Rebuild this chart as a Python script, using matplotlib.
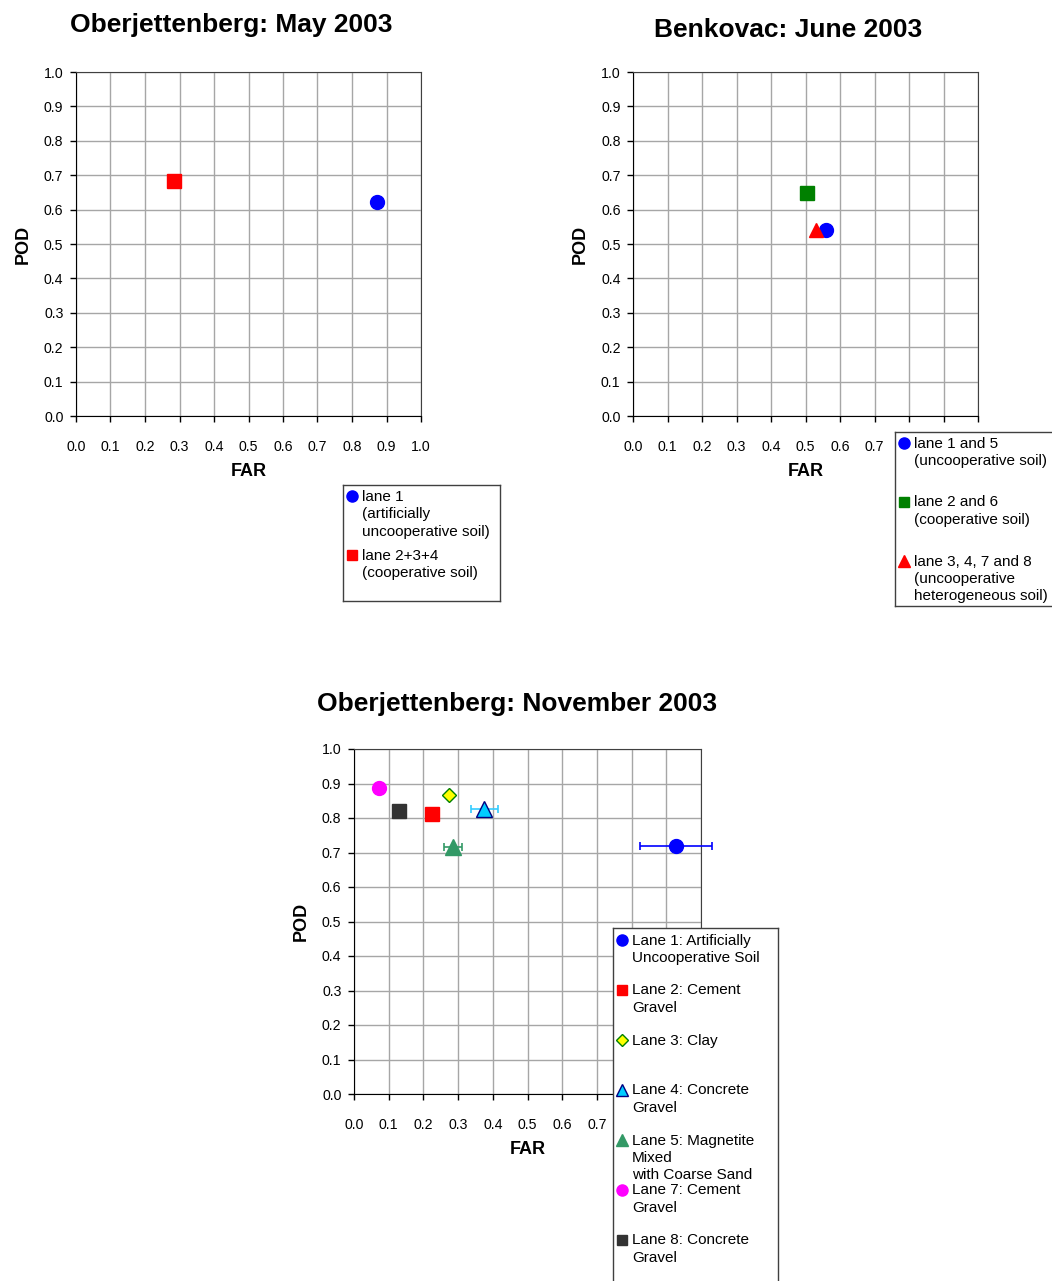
import matplotlib.pyplot as plt

plt.rcParams['font.family'] = ['Liberation Sans', 'DejaVu Sans']

W, H = 1052, 1281

# ---------------------------------------------------------------------------
# data
# ---------------------------------------------------------------------------
may_far = [0.872, 0.284]
may_pod = [0.622, 0.683]
may_labels = ["lane 1\n(artificially\nuncooperative soil)",
              "lane 2+3+4\n(cooperative soil)"]

june_far = [0.559, 0.504, 0.530]
june_pod = [0.541, 0.648, 0.541]
june_labels = ["lane 1 and 5\n(uncooperative soil)",
               "lane 2 and 6\n(cooperative soil)",
               "lane 3, 4, 7 and 8\n(uncooperative\nheterogeneous soil)"]

nov_far = [0.928, 0.225, 0.274, 0.375, 0.285, 0.072, 0.130]
nov_pod = [0.719, 0.812, 0.867, 0.826, 0.716, 0.887, 0.820]
nov_far_err = [0.105, 0.015, 0.0, 0.039, 0.025, 0.0, 0.0]
nov_labels = ["Lane 1: Artificially\nUncooperative Soil",
              "Lane 2: Cement\nGravel",
              "Lane 3: Clay",
              "Lane 4: Concrete\nGravel",
              "Lane 5: Magnetite\nMixed\nwith Coarse Sand",
              "Lane 7: Cement\nGravel",
              "Lane 8: Concrete\nGravel"]

ticks = [0.0, 0.1, 0.2, 0.3, 0.4, 0.5, 0.6, 0.7, 0.8, 0.9, 1.0]

# marker styles (marker, face, edge, size)
may_styles = [("o", "#0000FF", "#0000FF", 10), ("s", "#FF0000", "#FF0000", 9.5)]
june_styles = [("o", "#0000FF", "#0000FF", 10), ("s", "#008000", "#008000", 9.5),
               ("^", "#FF0000", "#FF0000", 10.5)]
nov_styles = [("o", "#0000FF", "#0000FF", 10),
              ("s", "#FF0000", "#FF0000", 9.5),
              ("D", "#FFFF00", "#008000", 7.5),
              ("^", "#00CCFF", "#000080", 11),
              ("^", "#339966", "#339966", 11),
              ("o", "#FF00FF", "#FF00FF", 10),
              ("s", "#333333", "#333333", 9.5)]
nov_ecolors = ["#0000FF", "#FF0000", "#808000", "#33CCFF", "#339966",
               "#FF00FF", "#333333"]


def px_rect(x0, y0, x1, y1):
    """Pixel box (top-left origin) -> figure fraction rect."""
    return [x0 / W, 1 - y1 / H, (x1 - x0) / W, (y1 - y0) / H]


def setup_axes(ax, title, title_x, title_pad, hide_from=None):
    ax.set_xlim(0, 1)
    ax.set_ylim(0, 1)
    ax.set_xticks(ticks)
    ax.set_yticks(ticks)
    # labels that the legend box covers in the original are left blank
    ax.set_xticklabels([f"{t:.1f}" if hide_from is None or t < hide_from else ""
                        for t in ticks])
    ax.set_yticklabels([f"{t:.1f}" for t in ticks])
    ax.tick_params(direction="out", length=4, width=1, labelsize=10.2,
                   color="black", pad=5)
    ax.tick_params(axis="x", pad=13)
    ax.grid(True, color="#a6a6a6", linewidth=1)
    ax.set_axisbelow(True)
    for side in ("top", "right"):
        ax.spines[side].set_color("#404040")
    for side in ("left", "bottom"):
        ax.spines[side].set_color("black")
    ax.set_xlabel("FAR", fontsize=13, fontweight="bold", labelpad=7)
    ax.set_ylabel("POD", fontsize=13, fontweight="bold", labelpad=8.5)
    ax.set_title(title, fontsize=19, fontweight="bold", x=title_x, pad=title_pad)


def draw_legend(fig, box, labels, styles, first_y, step, text_x=10,
                mark_x=9, scale=0.8, linespacing=1.3):
    """Excel-like legend: marker aligned with the first line of each label."""
    x0, y0, x1, y1 = box
    lax = fig.add_axes(px_rect(x0, y0, x1, y1))
    lax.set_xlim(0, x1 - x0)
    lax.set_ylim(y1 - y0, 0)
    lax.set_xticks([])
    lax.set_yticks([])
    for s in lax.spines.values():
        s.set_color("#404040")
        s.set_linewidth(1)
    for i, (lab, (m, fc, ec, ms)) in enumerate(zip(labels, styles)):
        y = first_y + i * step
        lax.plot([mark_x], [y], linestyle="none", marker=m, markersize=ms * scale,
                 markerfacecolor=fc, markeredgecolor=ec, clip_on=False)
        lax.text(mark_x + text_x, y - 6.5, lab, fontsize=11, va="top", ha="left",
                 linespacing=linespacing)
    return lax


fig = plt.figure(figsize=(W / 100, H / 100), dpi=100)

# --- Oberjettenberg May 2003 ------------------------------------------------
ax1 = fig.add_axes(px_rect(76, 72, 421, 416))
for xv, yv, (m, fc, ec, ms) in zip(may_far, may_pod, may_styles):
    ax1.plot([xv], [yv], linestyle="none", marker=m, markersize=ms,
             markerfacecolor=fc, markeredgecolor=ec, zorder=3)
setup_axes(ax1, "Oberjettenberg: May 2003", 0.45, 28.5)
draw_legend(fig, (343, 485, 500, 601), may_labels, may_styles,
            first_y=11, step=59, linespacing=1.35)

# --- Benkovac June 2003 -----------------------------------------------------
ax2 = fig.add_axes(px_rect(633, 72, 978, 416))
for xv, yv, (m, fc, ec, ms) in zip(june_far, june_pod, june_styles):
    ax2.plot([xv], [yv], linestyle="none", marker=m, markersize=ms,
             markerfacecolor=fc, markeredgecolor=ec, zorder=3)
setup_axes(ax2, "Benkovac: June 2003", 0.45, 25, hide_from=0.75)
draw_legend(fig, (895, 432, 1060, 606), june_labels, june_styles,
            first_y=11, step=59)

# --- Oberjettenberg November 2003 --------------------------------------------
ax3 = fig.add_axes(px_rect(354, 749, 701, 1094))
for xv, yv, err, (m, fc, ec, ms), ecol in zip(nov_far, nov_pod, nov_far_err,
                                              nov_styles, nov_ecolors):
    if err > 0:
        ax3.errorbar([xv], [yv], xerr=[err], fmt="none", ecolor=ecol,
                     elinewidth=1.2, capsize=3, capthick=1.2, zorder=3,
                     clip_on=False)
    ax3.plot([xv], [yv], linestyle="none", marker=m, markersize=ms,
             markerfacecolor=fc, markeredgecolor=ec, zorder=4, clip_on=False)
setup_axes(ax3, "Oberjettenberg: November 2003", 0.47, 27, hide_from=0.75)
draw_legend(fig, (613, 928, 778, 1290), nov_labels, nov_styles,
            first_y=12, step=50)

fig.savefig("out.png", dpi=100)
